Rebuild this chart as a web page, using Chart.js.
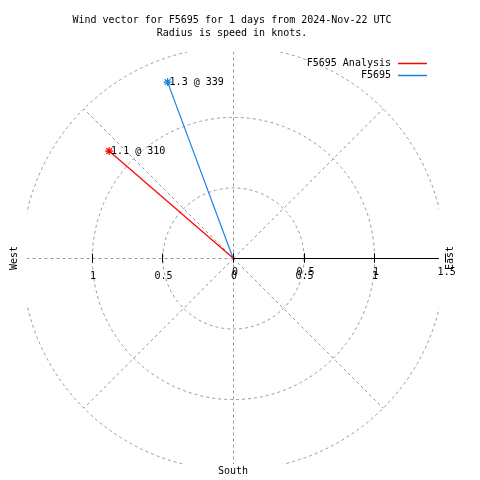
<!DOCTYPE html>
<html>
<head>
<meta charset="utf-8">
<script src="https://cdn.jsdelivr.net/npm/chart.js@4"></script>
<style>
  html, body { margin: 0; padding: 0; background: #fff; }
  canvas { display: block; }
</style>
</head>
<body>
<canvas id="chart" width="480" height="480"></canvas>
<script>
// series
var seriesNames = ['F5695 Analysis', 'F5695'];
var seriesColors = ['#ff0000', '#1a80e6'];
var speeds = [1.16, 1.33];          // knots
var directions = [310.8, 339.6];    // degrees, clockwise from north
var pointLabels = ['1.1 @ 310', '1.3 @ 339'];

// polar grid + axis labels
var ringValues = [0.5, 1, 1.5];
var spokeAngles = [0, 45, 90, 135, 180, 225, 270, 315];
var xTickValues = [-1, -0.5, 0, 0.5, 1];
var xTickLabels = ['1', '0.5', '0', '0.5', '1'];
var rTickValues = [0, 0.5, 1, 1.5];
var rTickLabels = ['0', '0.5', '1', '1.5'];
var titleLines = ['Wind vector for F5695 for 1 days from 2024-Nov-22 UTC', 'Radius is speed in knots.'];
var rMax = 1.46;

var FONT = '10px "DejaVu Sans Mono", "Liberation Mono", monospace';

function toXY(speed, dir) {
    var a = dir * Math.PI / 180;
    return { x: speed * Math.sin(a), y: speed * Math.cos(a) };
}

var datasets = [];
for (var i = 0; i < seriesNames.length; i++) {
    datasets.push({
        label: seriesNames[i],
        data: [{ x: 0, y: 0 }, toXY(speeds[i], directions[i])],
        showLine: true,
        borderColor: seriesColors[i],
        backgroundColor: seriesColors[i],
        borderWidth: 1.2,
        pointStyle: 'star',
        pointRadius: [0, 4],
        pointBorderWidth: 1.2
    });
}

var polarGrid = {
    id: 'polarGrid',
    beforeDatasetsDraw: function(chart) {
        var ctx = chart.ctx, xs = chart.scales.x, ys = chart.scales.y, area = chart.chartArea;
        var cx = xs.getPixelForValue(0), cy = ys.getPixelForValue(0);
        var unit = xs.getPixelForValue(1) - cx;
        ctx.save();
        ctx.beginPath();
        ctx.rect(area.left, area.top, area.right - area.left, area.bottom - area.top);
        ctx.clip();
        ctx.strokeStyle = '#999999';
        ctx.lineWidth = 1;
        ctx.setLineDash([3, 3]);
        var rOuter = ringValues[ringValues.length - 1] * unit;
        spokeAngles.forEach(function(a) {
            var t = a * Math.PI / 180;
            ctx.beginPath();
            ctx.moveTo(cx + 0.5, cy + 0.5);
            ctx.lineTo(cx + 0.5 + rOuter * Math.cos(t), cy + 0.5 - rOuter * Math.sin(t));
            ctx.stroke();
        });
        ringValues.forEach(function(r) {
            ctx.beginPath();
            ctx.arc(cx + 0.5, cy + 0.5, r * unit, 0, Math.PI * 2);
            ctx.stroke();
        });
        ctx.setLineDash([]);
        // r axis
        ctx.strokeStyle = '#000';
        ctx.beginPath();
        ctx.moveTo(cx, Math.round(cy) + 0.5);
        ctx.lineTo(area.right, Math.round(cy) + 0.5);
        ctx.stroke();
        ctx.restore();

        ctx.save();
        ctx.strokeStyle = '#000';
        ctx.lineWidth = 1;
        xTickValues.concat(rTickValues).forEach(function(v) {
            var px = Math.round(xs.getPixelForValue(v)) + 0.5;
            ctx.beginPath();
            ctx.moveTo(px, cy - 4.5);
            ctx.lineTo(px, cy + 4.5);
            ctx.stroke();
        });
        ctx.restore();
    },
    afterDatasetsDraw: function(chart) {
        var ctx = chart.ctx, xs = chart.scales.x, ys = chart.scales.y;
        var cx = xs.getPixelForValue(0), cy = ys.getPixelForValue(0);
        ctx.save();
        ctx.font = FONT;
        ctx.fillStyle = '#000';
        ctx.textBaseline = 'middle';
        ctx.textAlign = 'center';

        titleLines.forEach(function(t, k) {
            ctx.fillText(t, 232, 20 + k * 13);
        });

        xTickValues.forEach(function(v, k) {
            ctx.fillText(xTickLabels[k], xs.getPixelForValue(v) + 1, cy + 18);
        });
        rTickValues.forEach(function(v, k) {
            ctx.fillText(rTickLabels[k], xs.getPixelForValue(v) + 2, cy + 14);
        });

        ctx.fillText('South', cx, 471);
        [['West', 14], ['East', 450]].forEach(function(d) {
            ctx.save();
            ctx.translate(d[1], cy);
            ctx.rotate(-Math.PI / 2);
            ctx.fillText(d[0], 0, 0);
            ctx.restore();
        });

        // point labels
        ctx.textAlign = 'left';
        chart.data.datasets.forEach(function(ds, i) {
            var el = chart.getDatasetMeta(i).data[1];
            ctx.fillText(pointLabels[i], el.x + 2, el.y);
        });

        // legend
        seriesNames.forEach(function(name, i) {
            var y = 63 + i * 12;
            ctx.textAlign = 'right';
            ctx.fillStyle = '#000';
            ctx.fillText(name, 391, y);
            ctx.strokeStyle = seriesColors[i];
            ctx.lineWidth = 1.5;
            ctx.beginPath();
            ctx.moveTo(398, Math.round(y) + 0.5);
            ctx.lineTo(427, Math.round(y) + 0.5);
            ctx.stroke();
        });
        ctx.restore();
    }
};

new Chart(document.getElementById('chart').getContext('2d'), {
    type: 'scatter',
    data: { datasets: datasets },
    options: {
        responsive: false,
        animation: false,
        devicePixelRatio: 1,
        layout: { padding: { left: 27, right: 41, top: 52, bottom: 16 } },
        plugins: { legend: { display: false }, title: { display: false }, tooltip: { enabled: false } },
        scales: {
            x: { type: 'linear', min: -rMax, max: rMax, display: false },
            y: { type: 'linear', min: -rMax, max: rMax, display: false }
        }
    },
    plugins: [polarGrid]
});
</script>
</body>
</html>
